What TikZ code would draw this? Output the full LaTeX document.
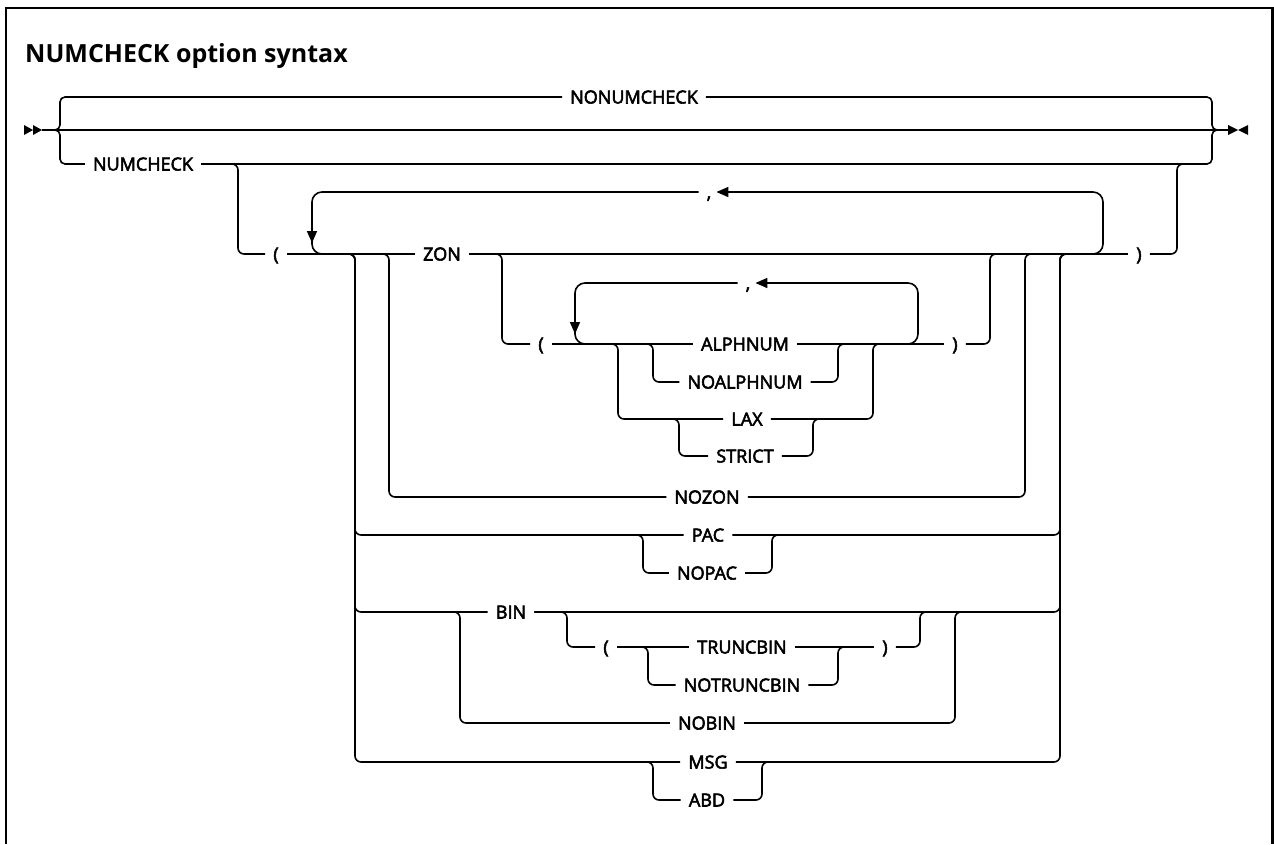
\documentclass[tikz,border=0pt]{standalone}
\usepackage{fontspec}
\setmainfont{Open Sans}
\newfontfamily\lblfont[FakeBold=3]{Open Sans}
\usetikzlibrary{arrows.meta}
\tikzset{
  rail/.style={line width=1.6pt, rounded corners=6pt},
  loopline/.style={line width=1.6pt, rounded corners=10pt},
  brace/.style={line width=1.6pt, rounded corners=5pt},
  kw/.style={font=\lblfont\fontsize{18}{20}\selectfont, inner xsep=8pt, inner ysep=0pt, text height=13pt, text depth=0pt},
  punct/.style={kw, inner xsep=2pt},
  looparrow/.style={-{Triangle[width=10pt,length=12pt]}},
  marker/.style={fill=black}
}
\begin{document}
\begin{tikzpicture}[x=1pt,y=-1pt]
\useasboundingbox (0,0) rectangle (1274,844);
% frame
\draw[line width=2.5pt] (6,844) -- (6,8) -- (1272.5,8) -- (1272.5,844);
% title
\node[anchor=base west, font=\bfseries\fontsize{25}{30}\selectfont, inner sep=0pt] (title) at (25,62) {NUMCHECK option syntax};

% start / end markers
\coordinate (start) at (42,130);
\coordinate (finish) at (1228,130);
\fill[marker] (24,125) -- (33,130) -- (24,135) -- cycle;
\fill[marker] (33,125) -- (42,130) -- (33,135) -- cycle;
\fill[marker] (1228,125) -- (1238,130) -- (1228,135) -- cycle;
\fill[marker] (1248,125) -- (1238,130) -- (1248,135) -- cycle;
\draw[rail] (start) -- (finish);

% labels
\node[kw] (nonum) at (634,97) {NONUMCHECK};
\node[kw] (numcheck) at (143,164) {NUMCHECK};
\node[kw] (lp1) at (276,254) {(};
\node[punct] (comma1) at (709,192) {,};
\node[kw] (zon) at (442,254) {ZON};
\node[kw] (rp1) at (1139,254) {)};
\node[kw] (lp2) at (541,344) {(};
\node[punct] (comma2) at (748,283) {,};
\node[kw] (alph) at (745,344) {ALPHNUM};
\node[kw] (noalph) at (745,382) {NOALPHNUM};
\node[kw] (lax) at (747,419) {LAX};
\node[kw] (strict) at (745,456) {STRICT};
\node[kw] (rp2) at (955,344) {)};
\node[kw] (nozon) at (707,497) {NOZON};
\node[kw] (pac) at (708,535) {PAC};
\node[kw] (nopac) at (707,573) {NOPAC};
\node[kw] (bin) at (511,612) {BIN};
\node[kw] (lp3) at (606,647) {(};
\node[kw] (trunc) at (742,647) {TRUNCBIN};
\node[kw] (notrunc) at (742,685) {NOTRUNCBIN};
\node[kw] (rp3) at (885,647) {)};
\node[kw] (nobin) at (707,723) {NOBIN};
\node[kw] (msg) at (708,762) {MSG};
\node[kw] (abd) at (707,800) {ABD};

% top-level braces
\draw[brace] (53,130) -- (60,130) -- (60,97) -- (nonum.west);
\draw[brace] (53,130) -- (60,130) -- (60,164) -- (numcheck.west);
\draw[brace] (nonum.east) -- (1212,97) -- (1212,130) -- (1219,130);
\draw[brace] (numcheck.east) -- (1212,164) -- (1212,130) -- (1219,130);

% NUMCHECK ( ... )
\draw[rail] (numcheck.east) -- (238,164) -- (238,254) -- (lp1.west);
\draw[rail] (rp1.east) -- (1177,254) -- (1177,164) -- (1190,164);

% inner main line
\draw[rail] (lp1.east) -- (zon.west);
\draw[rail] (zon.east) -- (rp1.west);

% outer repeat loop
\draw[loopline, looparrow] (1080,254) -- (1103,254) -- (1103,192) -- ([xshift=3pt]comma1.east);
\draw[loopline, looparrow] ([xshift=-6pt]comma1.west) -- (312,192) -- (312,243);
\draw[loopline] (312,236) -- (312,254) -- (330,254);

% branch x=355 : PAC, BIN, MSG
\coordinate (j355) at (343,254);
\draw[rail] (j355) -- (355,254) -- (355,535) -- (pac.west);
\draw[rail] (j355) -- (355,254) -- (355,612) -- (bin.west);
\draw[rail] (j355) -- (355,254) -- (355,762) -- (msg.west);
\coordinate (m1060) at (1072,254);
\draw[rail] (pac.east) -- (1060,535) -- (1060,254) -- (m1060);
\draw[rail] (bin.east) -- (1060,612) -- (1060,254) -- (m1060);
\draw[rail] (msg.east) -- (1060,762) -- (1060,254) -- (m1060);

% NOZON
\draw[rail] (377,254) -- (389,254) -- (389,497) -- (nozon.west);
\draw[rail] (nozon.east) -- (1025,497) -- (1025,254) -- (1037,254);

% ZON ( ... )
\draw[rail] (zon.east) -- (502,254) -- (502,344) -- (lp2.west);
\draw[rail] (rp2.east) -- (990,344) -- (990,254) -- (1002,254);
\draw[rail] (lp2.east) -- (alph.west);
\draw[rail] (alph.east) -- (rp2.west);

% inner repeat loop
\draw[loopline, looparrow] (900,344) -- (918,344) -- (918,283) -- ([xshift=3pt]comma2.east);
\draw[loopline, looparrow] ([xshift=-6pt]comma2.west) -- (575,283) -- (575,334);
\draw[loopline] (575,326) -- (575,344) -- (593,344);

% NOALPHNUM
\draw[rail] (641,344) -- (653,344) -- (653,382) -- (noalph.west);
\draw[rail] (noalph.east) -- (838,382) -- (838,344) -- (850,344);
% LAX
\draw[rail] (606,344) -- (618,344) -- (618,419) -- (lax.west);
\draw[rail] (lax.east) -- (873,419) -- (873,344) -- (885,344);
% STRICT
\draw[rail] (667,419) -- (679,419) -- (679,456) -- (strict.west);
\draw[rail] (strict.east) -- (813,456) -- (813,419) -- (825,419);

% NOPAC
\draw[rail] (631,535) -- (643,535) -- (643,573) -- (nopac.west);
\draw[rail] (nopac.east) -- (772,573) -- (772,535) -- (784,535);

% BIN ( ... )
\draw[rail] (bin.east) -- (567,612) -- (567,647) -- (lp3.west);
\draw[rail] (rp3.east) -- (920,647) -- (920,612) -- (932,612);
\draw[rail] (lp3.east) -- (trunc.west);
\draw[rail] (trunc.east) -- (rp3.west);
\draw[rail] (636,647) -- (648,647) -- (648,685) -- (notrunc.west);
\draw[rail] (notrunc.east) -- (838,685) -- (838,647) -- (850,647);
% NOBIN
\draw[rail] (448,612) -- (460,612) -- (460,723) -- (nobin.west);
\draw[rail] (nobin.east) -- (955,723) -- (955,612) -- (967,612);

% ABD
\draw[rail] (641,762) -- (653,762) -- (653,800) -- (abd.west);
\draw[rail] (abd.east) -- (762,800) -- (762,762) -- (774,762);
\end{tikzpicture}
\end{document}
